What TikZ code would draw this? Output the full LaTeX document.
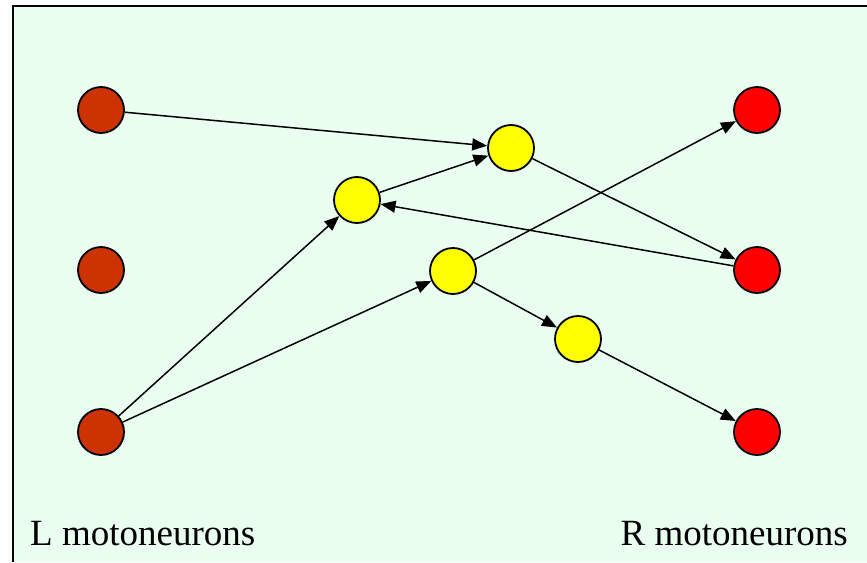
\documentclass[tikz,border=0pt]{standalone}
\usepackage{fontspec}
\setmainfont{Liberation Serif}
\usetikzlibrary{arrows.meta}
\definecolor{bg}{RGB}{234,255,240}
\definecolor{lred}{RGB}{204,51,0}
\definecolor{rred}{RGB}{255,0,0}
\definecolor{yel}{RGB}{255,255,0}
\tikzset{
  neuron/.style={circle,draw=black,line width=1.8pt,minimum size=46pt,inner sep=0pt},
  lmn/.style={neuron,fill=lred},
  rmn/.style={neuron,fill=rred},
  inter/.style={neuron,fill=yel},
  conn/.style={line width=1.5pt,-{Triangle[length=15pt,width=12pt]}},
  lab/.style={font=\fontsize{37}{40}\selectfont,anchor=base,inner sep=0pt}
}
\begin{document}
\begin{tikzpicture}[x=1pt,y=-1pt]
\useasboundingbox (0,0) rectangle (867,562);
\fill[bg] (13,6) rectangle (867,562);
\draw[line width=2.5pt] (13,562) -- (13,6) -- (867,6);
\node[lmn] (L1) at (101,110) {};
\node[lmn] (L2) at (101,270) {};
\node[lmn] (L3) at (101,432) {};
\node[rmn] (R1) at (757,110) {};
\node[rmn] (R2) at (757,270) {};
\node[rmn] (R3) at (757,432) {};
\node[inter] (Y1) at (511,148) {};
\node[inter] (Y2) at (357,200) {};
\node[inter] (Y3) at (453,271) {};
\node[inter] (Y4) at (578,339) {};
\draw[conn] (L1) -- (Y1);
\draw[conn] (Y2) -- (Y1);
\draw[conn] (Y1) -- (R2);
\draw[conn] (R2) -- (Y2);
\draw[conn] (L3) -- (Y2);
\draw[conn] (L3) -- (Y3);
\draw[conn] (Y3) -- (R1);
\draw[conn] (Y3) -- (Y4);
\draw[conn] (Y4) -- (R3);
\node[lab,anchor=base west] (LL) at (30,545) {L motoneurons};
\node[lab,anchor=base east] (RL) at (848,545) {R motoneurons};
\end{tikzpicture}
\end{document}
